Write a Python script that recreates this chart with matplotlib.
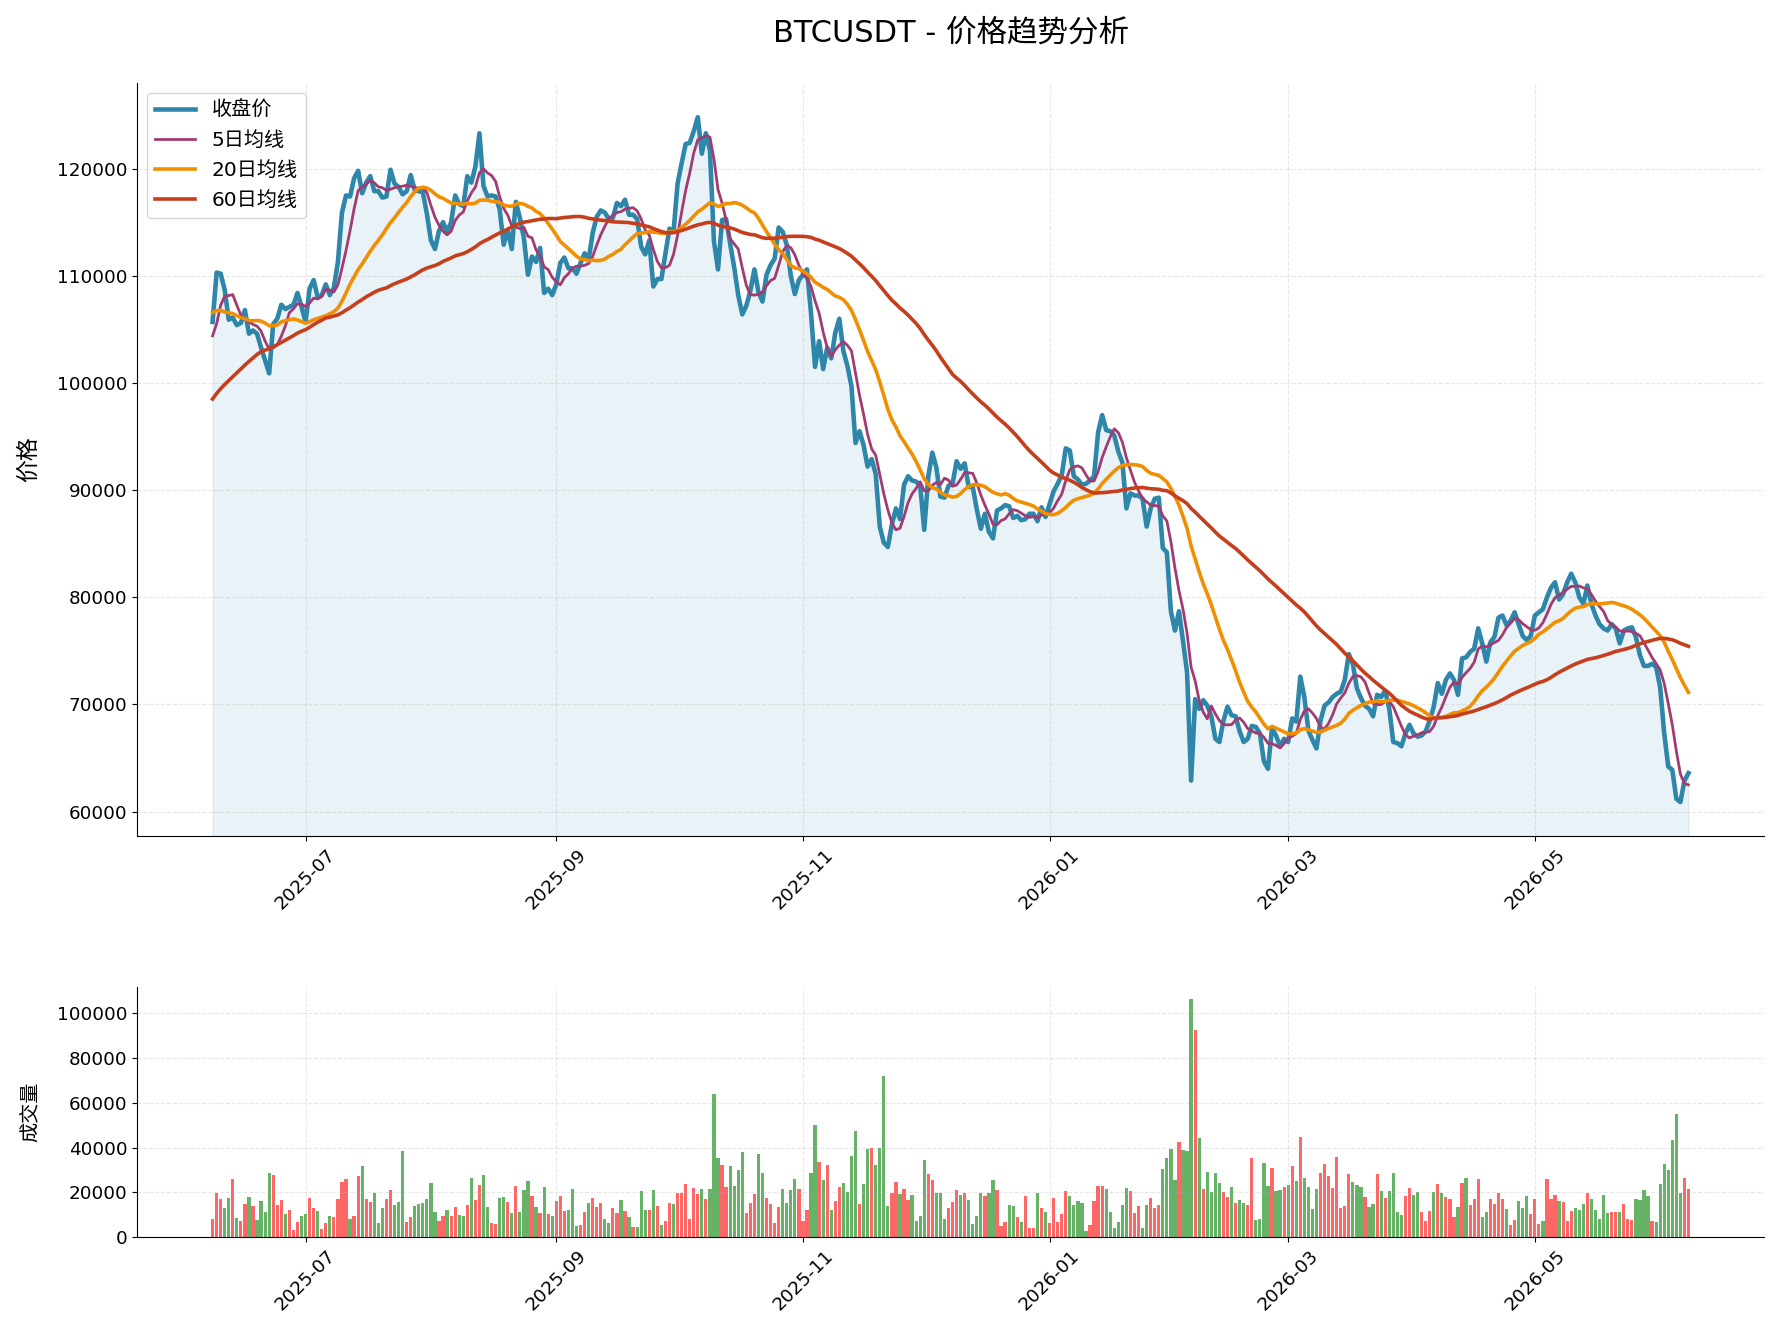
import matplotlib
matplotlib.use('Agg')
import matplotlib.pyplot as plt
import matplotlib.dates as mdates
import numpy as np
import pandas as pd

plt.rcParams['font.family'] = ['DejaVu Sans', 'Noto Sans CJK SC']
plt.rcParams['axes.unicode_minus'] = False

symbol = 'BTCUSDT'
start_date = '2025-06-08'

# daily closes before the window (2025-04-10 .. 2025-06-07), k USDT, only to warm up the MAs
warmup_close = [79.6, 83.4, 85.3, 83.7, 84.6, 83.6, 84.0, 84.9, 84.5, 85.1, 85.2, 87.5, 93.4, 93.7,
                93.9, 94.7, 94.6, 93.8, 95.0, 94.3, 94.2,
                96.5, 96.9, 95.9, 94.3, 94.7, 96.8, 97.0, 103.2, 102.9, 104.6, 104.1, 102.8, 104.2,
                103.5, 103.7, 103.6, 103.2, 106.4, 105.6, 106.8, 109.7, 111.7, 107.3, 107.8, 109.0,
                109.4, 108.9, 107.8, 105.6, 103.9, 104.6,
                105.7, 105.9, 105.4, 104.7, 101.6, 104.4, 105.6]

# daily close, k USDT (2025-06-08 .. 2026-06-08)
close_k = [
    # 2025-06
    105.7, 110.3, 110.2, 108.7, 105.9, 106.1, 105.4, 105.6, 106.8, 104.6, 104.9, 104.6, 103.3, 102.1,
    100.9, 105.5, 106.0, 107.3, 106.9, 107.1, 107.3, 108.4, 107.1,
    # 2025-07
    105.7, 108.8, 109.6, 108.0, 108.2, 109.2, 108.2, 108.9, 111.3, 115.9, 117.5, 117.4, 119.1, 119.8,
    117.7, 118.7, 119.3, 117.9, 117.9, 117.3, 117.4, 119.9, 118.6, 118.3, 117.6, 117.9, 119.4, 118.0,
    117.9, 117.8, 115.8,
    # 2025-08
    113.3, 112.5, 114.2, 115.0, 114.1, 115.0, 117.5, 116.7, 116.5, 119.3, 118.7, 120.2, 123.3, 118.4,
    117.4, 117.5, 117.4, 116.2, 112.9, 114.3, 112.5, 116.9, 115.4, 113.5, 110.1, 111.8, 111.3, 112.6,
    108.4, 108.8, 108.2,
    # 2025-09
    109.2, 111.2, 111.7, 110.7, 110.7, 110.2, 111.2, 112.1, 111.5, 114.0, 115.5, 116.1, 115.9, 115.3,
    115.4, 116.8, 116.5, 117.1, 115.7, 115.7, 115.3, 112.7, 112.0, 113.3, 109.0, 109.7, 109.7, 112.1,
    114.4, 114.1,
    # 2025-10
    118.6, 120.5, 122.3, 122.4, 123.5, 124.8, 121.4, 123.3, 121.7, 113.2, 110.6, 115.2, 115.3, 113.0,
    110.8, 108.2, 106.4, 107.2, 108.6, 110.6, 108.5, 107.6, 110.1, 111.0, 111.6, 114.5, 114.1, 112.9,
    110.0, 108.3, 109.6,
    # 2025-11
    110.1, 110.6, 106.5, 101.5, 103.9, 101.3, 103.3, 102.3, 104.7, 106.0, 103.0, 101.6, 99.7, 94.4,
    95.5, 94.2, 92.2, 92.9, 91.5, 86.6, 85.1, 84.7, 86.8, 88.3, 87.3, 90.5, 91.3, 90.9, 90.8, 90.4,
    # 2025-12
    86.3, 91.3, 93.5, 92.1, 89.4, 89.3, 90.4, 90.6, 92.7, 92.0, 92.5, 90.3, 90.3, 88.2, 86.4, 87.8,
    86.1, 85.5, 88.1, 88.3, 88.6, 88.5, 87.4, 87.6, 87.2, 87.3, 87.8, 87.8, 87.1, 88.4, 87.5,
    # 2026-01
    88.7, 89.9, 90.6, 91.4, 93.9, 93.7, 91.3, 91.0, 90.5, 90.6, 90.9, 91.3, 95.4, 97.0, 95.6, 95.5,
    95.1, 93.6, 92.6, 88.3, 89.7, 89.5, 89.5, 89.2, 86.6, 88.3, 89.2, 89.3, 84.6, 84.2, 78.7,
    # 2026-02
    76.9, 78.7, 75.9, 73.0, 62.9, 70.5, 69.6, 70.4, 69.9, 68.9, 66.8, 66.5, 68.5, 69.8, 69.0, 68.9,
    67.5, 66.5, 66.8, 68.0, 67.9, 67.3, 64.7, 64.0, 67.8, 67.1, 66.1, 66.8,
    # 2026-03
    66.5, 68.7, 68.4, 72.6, 70.7, 67.6, 66.7, 65.9, 68.5, 69.9, 70.2, 70.7, 71.0, 71.2, 72.3, 74.7,
    73.8, 71.5, 70.6, 69.9, 69.6, 68.9, 70.9, 70.7, 71.3, 69.6, 66.5, 66.4, 66.1, 67.3, 68.1,
    # 2026-04
    67.3, 67.0, 67.1, 67.5, 68.5, 69.8, 72.0, 71.0, 72.3, 72.9, 72.3, 70.9, 74.3, 74.4, 74.9, 75.2,
    77.1, 75.7, 74.0, 75.8, 76.3, 78.1, 78.3, 77.4, 77.8, 78.6, 77.5, 76.4, 76.0, 76.4,
    # 2026-05
    78.3, 78.6, 78.9, 80.0, 80.9, 81.4, 79.8, 80.3, 81.4, 82.2, 81.4, 80.0, 79.4, 81.1, 79.4, 78.3,
    77.5, 77.1, 76.9, 77.5, 77.1, 75.7, 76.9, 77.1, 77.2, 76.3, 74.6, 73.6, 73.6, 73.8, 73.5,
    # 2026-06
    71.6, 67.3, 64.2, 63.9, 61.2, 60.9, 62.9, 63.6,
]

# daily volume, thousands
volume_k = [
    8.1, 19.7, 17.0, 13.0, 17.5, 25.9, 8.6, 7.3, 14.8, 17.9, 13.9, 7.7, 16.1, 11.2, 28.6, 27.7, 14.4,
    16.6, 10.4, 12.1, 3.3, 6.8, 9.5, 10.4, 17.5, 13.0, 11.7, 3.7, 6.4, 9.5, 9.0, 17.0, 24.6, 25.9,
    8.1, 9.5, 27.2, 31.7, 17.0, 15.7, 19.7, 6.4, 13.0, 17.0, 21.0, 14.4, 15.7, 38.3, 6.8, 9.0, 13.9,
    14.8, 15.2, 17.0, 24.1, 11.2, 7.3, 9.5, 12.1, 9.5, 13.5, 9.9, 9.5, 14.4, 26.3, 16.6, 23.2, 27.7,
    13.5, 6.4, 5.9, 17.5, 17.9, 15.7, 10.8, 22.8, 11.2, 21.0, 25.0, 18.4, 13.5, 10.8, 22.3, 10.4,
    9.5, 16.1, 18.4, 11.7, 12.1, 21.5, 5.0, 5.5,
    11.2, 15.2, 17.5, 13.5, 15.2, 8.1, 6.4, 13.0, 10.8, 16.6, 11.7, 9.0, 4.6, 4.6, 20.6, 12.1, 12.1,
    21.0, 13.9, 5.5, 7.3, 15.2, 14.8, 19.7, 19.7, 23.7, 8.1, 21.9, 19.2, 21.5, 17.0, 21.5, 64.1, 35.2,
    32.1, 22.3, 31.7, 22.8, 29.9, 37.9, 10.8, 15.2, 19.2, 37.0, 28.6, 17.5, 14.8, 6.4, 13.5, 21.5,
    15.2, 21.0, 25.9, 21.5, 7.3, 12.1, 28.6, 50.3, 33.4, 25.5, 32.1, 12.1, 16.1, 22.3, 24.1, 20.1,
    36.1, 47.2, 14.8, 23.7, 39.2, 39.7, 32.1, 39.7, 72.1, 13.9, 19.7, 24.6, 19.2, 21.5, 16.6, 18.8,
    7.3, 9.5, 34.3, 28.1, 25.5, 19.7, 19.7, 8.1, 13.0,
    15.7, 21.0, 18.8, 19.7, 16.6, 5.9, 9.5, 19.7, 18.4, 19.7, 25.5, 21.0, 5.0, 6.8, 14.4, 13.9, 9.0,
    6.8, 18.4, 4.1, 4.1, 19.7, 13.0, 11.2, 6.4, 17.5, 6.8, 10.4, 20.6, 18.4, 14.4, 16.1, 15.2, 2.8,
    5.5, 16.1, 22.8, 22.8, 21.5, 11.2, 4.1, 6.8, 14.4, 21.9, 20.6, 10.8, 13.9, 4.1, 14.4, 17.5, 13.0,
    14.4, 30.3, 35.2, 39.2, 25.5, 42.3, 38.8, 38.3, 106.3, 92.5, 44.1, 21.5, 29.0, 20.1, 28.6, 24.1,
    20.1, 17.9, 22.3, 15.2, 16.6, 15.2, 14.4, 35.2, 7.7, 8.1, 33.0, 22.8, 30.8, 20.6, 21.0, 22.3,
    23.2, 31.7, 25.0, 44.5, 26.3, 22.3, 12.6, 21.5, 28.6,
    32.6, 27.2, 21.9, 35.7, 13.0, 13.9, 28.1, 24.6, 23.2, 22.3, 17.9, 13.5, 14.8, 28.1, 20.6, 17.5,
    20.6, 28.6, 11.2, 9.9, 18.4, 21.9, 18.8, 20.1, 11.2, 7.3, 11.7, 20.1, 23.7, 19.7, 17.9, 17.0,
    9.0, 13.5, 24.1, 26.3, 14.4, 17.0, 25.9, 9.0, 11.2, 17.0, 14.8, 19.7, 17.0, 12.6, 5.5, 7.7, 16.1,
    13.0, 18.4, 10.4, 17.0, 5.9, 7.3, 25.9, 17.0, 18.8, 16.1, 15.7, 7.3, 11.7, 13.0, 12.1, 14.8, 19.7,
    17.0, 12.1, 8.1, 18.8, 10.8, 11.2, 11.2, 11.2, 14.8, 8.1, 7.7, 17.0, 16.6, 21.0, 18.4, 7.3, 6.8,
    23.7, 32.6, 29.9, 43.2, 54.8, 19.7, 26.3, 21.5,
]

# R = up day, G = down day (as coloured in the volume panel)
bar_dir = ("RRRGGRGRRG" "RGGGGRRRGR" "RRGGRRGRRG" "RRRRGRRGRR" "GGGRRGGGRR" "GGGGGGRRGR"
           "RGGRGRRGGR" "RGGRGRGGGR" "GRGRGRRRGG" "GR"
           "RGRRRGGRRG" "RGRGGGRGRG" "RRGRRRRRRG" "RGGGRRGGGG" "RRRGGRRRRG" "GGGRRRGGRG"
           "RGRRGGGGRG" "GRGGGGRRGR" "RGGGGRRGGG" "R"
           "RRGRGGGGRG" "GRRRGGRGRR" "RGRGRRRRRG" "GGGGRRRRGG" "GGGGRRRGGR" "RRGGGGRGGG"
           "RGRGGGGRRG" "RGGRRGGGGR" "GGRGRGRGGG" "GR"
           "RRRRRRRGGG" "RGGRGRGGGG" "RRGGRRRGRG" "RRRGRGRRRG" "GRRRRGRRGG" "GRRRGRRRGR"
           "RRGGGRGGGG" "GRRGRRRGGG" "GRGGGGGGGR" "R")

assert len(close_k) == len(volume_k) == len(bar_dir) == 366

dates = pd.date_range(start_date, periods=len(close_k), freq='D')
close = np.array(close_k) * 1000
volume = np.array(volume_k) * 1000

full = pd.Series(np.array(warmup_close + close_k) * 1000)
ma5 = full.rolling(5).mean().values[-len(close):]
ma20 = full.rolling(20).mean().values[-len(close):]
ma60 = full.rolling(60).mean().values[-len(close):]

fig = plt.figure(figsize=(17.79, 13.38), dpi=100)
ax1 = fig.add_axes([0.077, 0.375, 0.9146, 0.563])
ax2 = fig.add_axes([0.077, 0.0755, 0.9146, 0.1865], sharex=ax1)

ax1.plot(dates, close, color='#2E86AB', linewidth=3.3, label='收盘价')
ax1.plot(dates, ma5, color='#A23B72', linewidth=2.0, label='5日均线')
ax1.plot(dates, ma20, color='#F18F01', linewidth=2.6, label='20日均线')
ax1.plot(dates, ma60, color='#C73E1D', linewidth=2.6, label='60日均线')

lo = min(close.min(), ma5.min(), ma20.min(), ma60.min())
hi = max(close.max(), ma5.max(), ma20.max(), ma60.max())
pad = (hi - lo) * 0.05
ax1.set_ylim(lo - pad, hi + pad)
ax1.fill_between(dates, close, lo - pad, color='#2E86AB', alpha=0.1)

ax1.set_title(f'{symbol} - 价格趋势分析', fontsize=22, pad=30)
ax1.set_ylabel('价格', fontsize=16.5, labelpad=12)
ax1.legend(loc='upper left', fontsize=14.5, labelspacing=0.55)
ax1.grid(True, linestyle='--', alpha=0.3)

bar_colors = ['red' if c == 'R' else 'green' for c in bar_dir]
ax2.bar(dates, volume, color=bar_colors, alpha=0.6, width=0.8)
ax2.set_ylabel('成交量', fontsize=14.5, labelpad=12)
ax2.grid(True, linestyle='--', alpha=0.3)

for ax in (ax1, ax2):
    ax.spines['top'].set_visible(False)
    ax.spines['right'].set_visible(False)
    ax.xaxis.set_major_locator(mdates.MonthLocator(bymonth=[1, 3, 5, 7, 9, 11]))
    ax.xaxis.set_major_formatter(mdates.DateFormatter('%Y-%m'))
    ax.tick_params(axis='both', labelsize=13.2)
    ax.tick_params(axis='x', labelbottom=True)
    plt.setp(ax.get_xticklabels(), rotation=45)

fig.savefig('out.png', dpi=100)
